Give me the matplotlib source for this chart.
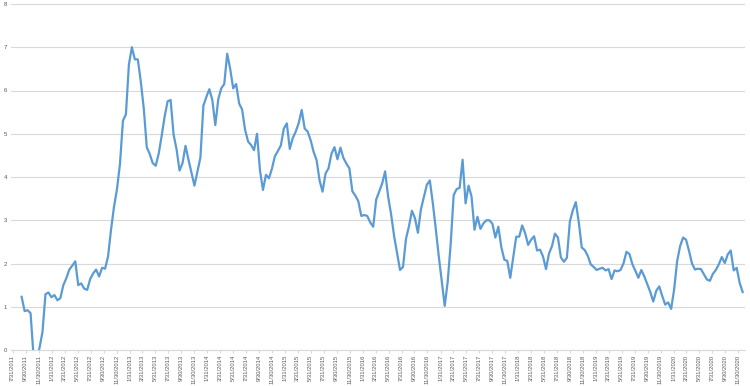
import matplotlib
matplotlib.use("Agg")
import matplotlib.pyplot as plt
import matplotlib.dates as mdates
import pandas as pd
import numpy as np

# ---- data ----
start_date = "2011-09-11"
step = "14D"
values = [
    1.23, 0.90, 0.92, 0.85, -0.15, -0.20, 0.05, 0.42, 1.29, 1.33,
    1.22, 1.27, 1.15, 1.20, 1.50, 1.66, 1.86, 1.95, 2.05, 1.50,
    1.54, 1.42, 1.39, 1.64, 1.77, 1.86, 1.70, 1.90, 1.88, 2.16,
    2.78, 3.31, 3.72, 4.30, 5.30, 5.45, 6.60, 7.00, 6.72, 6.72,
    6.20, 5.58, 4.69, 4.53, 4.32, 4.26, 4.54, 4.95, 5.40, 5.75,
    5.78, 4.98, 4.64, 4.15, 4.32, 4.72, 4.40, 4.10, 3.80, 4.12,
    4.45, 5.65, 5.85, 6.03, 5.78, 5.20, 5.80, 6.05, 6.15, 6.85,
    6.50, 6.05, 6.15, 5.70, 5.56, 5.09, 4.82, 4.74, 4.62, 5.00,
    4.15, 3.70, 4.05, 3.97, 4.19, 4.48, 4.60, 4.73, 5.12, 5.24,
    4.65, 4.90, 5.05, 5.25, 5.55, 5.12, 5.05, 4.85, 4.58, 4.39,
    3.92, 3.66, 4.08, 4.20, 4.54, 4.69, 4.41, 4.68, 4.44, 4.31,
    4.20, 3.67, 3.57, 3.44, 3.10, 3.12, 3.10, 2.95, 2.85, 3.48,
    3.66, 3.85, 4.13, 3.55, 3.14, 2.64, 2.25, 1.85, 1.92, 2.57,
    2.86, 3.22, 3.05, 2.71, 3.25, 3.53, 3.82, 3.92, 3.40, 2.80,
    2.17, 1.60, 1.02, 1.58, 2.45, 3.58, 3.72, 3.75, 4.40, 3.39,
    3.80, 3.55, 2.78, 3.08, 2.80, 2.93, 3.00, 3.00, 2.92, 2.60,
    2.85, 2.38, 2.09, 2.06, 1.67, 2.15, 2.62, 2.62, 2.88, 2.70,
    2.43, 2.55, 2.63, 2.30, 2.32, 2.16, 1.87, 2.23, 2.40, 2.69,
    2.60, 2.14, 2.04, 2.13, 2.97, 3.23, 3.42, 2.95, 2.37, 2.31,
    2.18, 1.98, 1.92, 1.85, 1.88, 1.90, 1.84, 1.87, 1.64, 1.84,
    1.82, 1.85, 2.00, 2.27, 2.22, 1.98, 1.83, 1.67, 1.85, 1.70,
    1.52, 1.34, 1.12, 1.37, 1.47, 1.25, 1.05, 1.10, 0.95, 1.40,
    2.05, 2.40, 2.60, 2.55, 2.29, 2.00, 1.86, 1.88, 1.87, 1.75,
    1.63, 1.60, 1.76, 1.85, 1.98, 2.15, 2.01, 2.21, 2.30, 1.84,
    1.90, 1.55, 1.34,
]
tick_start = "2011-07-31"
tick_end = "2020-11-30"
y_ticks = [0, 1, 2, 3, 4, 5, 6, 7, 8]

dates = pd.date_range(start_date, periods=len(values), freq=step)
tick_dates = pd.date_range(tick_start, tick_end, freq="2ME")
tick_labels = [f"{d.month}/{d.day}/{d.year}" for d in tick_dates]

# ---- figure ----
plt.rcParams["font.family"] = ["Liberation Sans", "DejaVu Sans"]
fig = plt.figure(figsize=(7.5, 3.86), dpi=100)
ax = fig.add_axes([11 / 750, (386 - 350) / 386, 734 / 750, 346 / 386])

ax.plot(dates, values, color="#5B9BD5", linewidth=1.6, solid_joinstyle="round")

ax.set_ylim(0, 8)
ax.set_yticks(y_ticks)
ax.set_yticklabels([str(v) for v in y_ticks])
ax.set_xlim(pd.Timestamp(tick_start) - pd.Timedelta(days=8),
            pd.Timestamp(tick_end) + pd.Timedelta(days=31))
ax.set_xticks(tick_dates)
ax.set_xticklabels(tick_labels, rotation=90)

ax.grid(axis="y", color="#d9d9d9", linewidth=0.8)
ax.set_axisbelow(True)
for s in ["left", "right", "top"]:
    ax.spines[s].set_visible(False)
ax.spines["bottom"].set_color("#d9d9d9")
ax.spines["bottom"].set_linewidth(0.8)

ax.tick_params(axis="y", length=0, labelsize=4.3, labelcolor="#595959", pad=3)
ax.tick_params(axis="x", length=2, color="#d9d9d9", labelsize=4.2,
               labelcolor="#595959", pad=1.5)

fig.savefig("out.png", dpi=100)
